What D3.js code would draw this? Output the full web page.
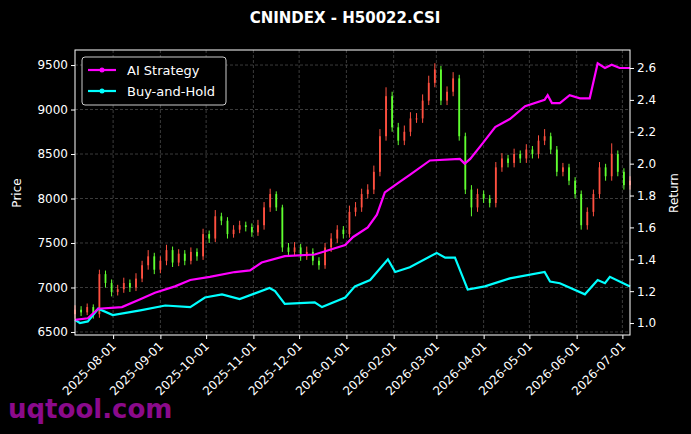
<!DOCTYPE html><html><head><meta charset="utf-8"><script src="https://cdn.jsdelivr.net/npm/d3@7"></script>
<style>body{margin:0;background:#000}svg{font-family:"DejaVu Sans",sans-serif}</style></head><body><svg width="691" height="434"></svg>
<script>
const startDate="2025-07-07", stepDays=4;
const close=[6750,6720,6780,6700,7150,7050,6950,6980,7050,7000,7100,7250,7350,7200,7300,7420,7280,7380,7300,7400,7350,7600,7550,7800,7750,7600,7650,7700,7680,7620,7700,7900,8050,7900,7450,7400,7450,7350,7400,7300,7250,7450,7550,7650,7600,7850,7900,8050,8100,8300,8700,9150,8800,8650,8750,8900,8900,9100,9300,9450,9100,9200,9350,8700,8100,7900,8050,8000,7950,8350,8450,8400,8500,8450,8550,8500,8650,8700,8550,8300,8350,8200,8050,7700,7850,8050,8350,8250,8500,8300,8150,8200];
const high=[6800,6790,6820,6810,7200,7190,7090,7030,7110,7090,7160,7300,7420,7390,7350,7480,7460,7430,7420,7450,7440,7660,7640,7870,7840,7790,7700,7750,7740,7720,7760,7960,8110,8080,7930,7500,7510,7490,7460,7440,7340,7500,7610,7700,7690,7920,7960,8110,8160,8370,8780,9250,9200,8850,8820,8970,8960,9170,9380,9520,9490,9260,9420,9390,8740,8150,8110,8090,8040,8410,8510,8490,8560,8540,8610,8590,8710,8780,8740,8590,8400,8390,8240,8090,7900,8100,8410,8390,8620,8540,8340,8250];
const low=[6650,6680,6690,6650,6660,7000,6900,6910,6940,6950,6960,7060,7200,7150,7160,7250,7230,7240,7250,7260,7300,7310,7500,7510,7700,7550,7560,7610,7630,7570,7580,7650,7850,7860,7400,7350,7360,7300,7310,7250,7200,7210,7400,7500,7550,7560,7800,7850,8000,8050,8250,8650,8750,8600,8600,8700,8850,8850,9050,9250,9050,9050,9150,8650,8050,7800,7850,7950,7900,7900,8300,8350,8350,8400,8400,8450,8450,8600,8500,8250,8250,8150,8000,7650,7650,7800,8000,8200,8200,8250,8100,8100];
const firstOpen=6700;
const aiIdx=[0,2.1,3.8,7.7,10.7,13.1,16.4,18.9,22.1,26.2,28.7,30.6,34.4,39.3,41.8,44.3,45.6,48,49.5,50.8,53,54.9,58.2,63.1,63.9,64.8,66.9,68.9,71.3,73.8,77,77.5,78.2,79.5,81.1,82.8,84.4,85.7,86.9,88,89.3,91];
const aiVal=[1.02,1.03,1.09,1.10,1.15,1.19,1.23,1.27,1.29,1.32,1.33,1.38,1.42,1.43,1.46,1.49,1.54,1.60,1.68,1.82,1.88,1.93,2.02,2.03,2.00,2.03,2.13,2.23,2.28,2.36,2.40,2.43,2.38,2.38,2.43,2.41,2.41,2.63,2.60,2.62,2.60,2.60];
const bhIdx=[0,0.8,2.1,3.8,6.2,10.7,14.8,18.9,21.3,24.1,27,31.9,32.8,34.4,39.3,40.5,44.3,45.9,48.4,51.3,52.5,54.9,59.3,60.7,62.3,64.4,67.2,71.3,77,77.9,79.5,83.6,85.7,86.9,87.7,91];
const bhVal=[1.02,1.00,1.01,1.09,1.05,1.08,1.11,1.10,1.16,1.18,1.15,1.22,1.20,1.12,1.13,1.10,1.16,1.23,1.27,1.40,1.32,1.35,1.44,1.41,1.41,1.21,1.23,1.28,1.32,1.26,1.25,1.18,1.27,1.25,1.29,1.23];
const xTicks=["2025-08-01","2025-09-01","2025-10-01","2025-11-01","2025-12-01","2026-01-01","2026-02-01","2026-03-01","2026-04-01","2026-05-01","2026-06-01","2026-07-01"];
const priceTicks=[6500,7000,7500,8000,8500,9000,9500];
const retTicks=[1.0,1.2,1.4,1.6,1.8,2.0,2.2,2.4,2.6];

const P=d3.timeParse("%Y-%m-%d"), s0=P(startDate);
const dayAt=i=>d3.timeHour.offset(s0,Math.round(i*stepDays*24));
const L=75,R=630,T=50,B=335;
const x=d3.scaleTime().domain([s0,P("2026-07-06")]).range([L,R]);
const yP=d3.scaleLinear().domain([6466,9669]).range([B,T]);
const yR=d3.scaleLinear().domain([0.925,2.713]).range([B,T]);
const svg=d3.select("svg");
svg.append("text").attr("x",345).attr("y",23).attr("text-anchor","middle").attr("fill","#fff").attr("font-weight","bold").attr("font-size",15).text("CNINDEX - H50022.CSI");
const g=svg.append("g");
g.selectAll(".gx").data(xTicks).join("line").attr("x1",d=>x(P(d))).attr("x2",d=>x(P(d))).attr("y1",T).attr("y2",B).attr("stroke","#555").attr("stroke-dasharray","3,2").attr("stroke-width",0.7);
g.selectAll(".gy").data(priceTicks).join("line").attr("x1",L).attr("x2",R).attr("y1",d=>yP(d)).attr("y2",d=>yP(d)).attr("stroke","#555").attr("stroke-dasharray","3,2").attr("stroke-width",0.7);
const candles=close.map((c,i)=>({d:dayAt(i),o:i?close[i-1]:firstOpen,c,h:high[i],l:low[i]}));
const col=d=>d.c>=d.o?"#ff5040":"#60ff30";
const cg=g.append("g");
cg.selectAll("line").data(candles).join("line").attr("x1",d=>x(d.d)).attr("x2",d=>x(d.d)).attr("y1",d=>yP(d.h)).attr("y2",d=>yP(d.l)).attr("stroke",col).attr("stroke-width",1);
cg.selectAll("rect").data(candles).join("rect").attr("x",d=>x(d.d)-0.9).attr("width",1.8).attr("y",d=>yP(Math.max(d.o,d.c))).attr("height",d=>Math.max(1,Math.abs(yP(d.o)-yP(d.c)))).attr("fill",col);
const ln=d3.line().x(d=>x(dayAt(d[0]))).y(d=>yR(d[1]));
g.append("path").attr("d",ln(bhIdx.map((v,i)=>[v,bhVal[i]]))).attr("fill","none").attr("stroke","#00ffff").attr("stroke-width",2.2);
g.append("path").attr("d",ln(aiIdx.map((v,i)=>[v,aiVal[i]]))).attr("fill","none").attr("stroke","#ff00ff").attr("stroke-width",2.2);
svg.append("rect").attr("x",L).attr("y",T).attr("width",R-L).attr("height",B-T).attr("fill","none").attr("stroke","#fff").attr("stroke-width",1);
const ax=svg.append("g").attr("transform",`translate(0,${B})`).call(d3.axisBottom(x).tickValues(xTicks.map(P)).tickFormat(d3.timeFormat("%Y-%m-%d")).tickSize(4));
ax.selectAll("text").attr("transform","rotate(-45)").attr("text-anchor","end").attr("dx","-0.5em").attr("dy","0.3em");
const ay=svg.append("g").attr("transform",`translate(${L},0)`).call(d3.axisLeft(yP).tickValues(priceTicks).tickFormat(d3.format("d")).tickSize(4));
const ar=svg.append("g").attr("transform",`translate(${R},0)`).call(d3.axisRight(yR).tickValues(retTicks).tickFormat(d3.format(".1f")).tickSize(4));
[ax,ay,ar].forEach(a=>{a.select(".domain").remove();a.selectAll("line").attr("stroke","#fff");a.selectAll("text").attr("fill","#fff").attr("font-size",12).attr("font-family","DejaVu Sans");});
svg.append("text").attr("transform","translate(21,193) rotate(-90)").attr("text-anchor","middle").attr("fill","#fff").attr("font-size",12).text("Price");
svg.append("text").attr("transform","translate(678,193) rotate(-90)").attr("text-anchor","middle").attr("fill","#fff").attr("font-size",12).text("Return");
const lg=svg.append("g");
lg.append("rect").attr("x",82).attr("y",57).attr("width",144).attr("height",48).attr("rx",3).attr("fill","#000").attr("stroke","#ccc");
[["AI Strategy","#ff00ff",70],["Buy-and-Hold","#00ffff",91]].forEach(([t,c,yy])=>{
 lg.append("line").attr("x1",88).attr("x2",116).attr("y1",yy).attr("y2",yy).attr("stroke",c).attr("stroke-width",2.2);
 lg.append("circle").attr("cx",102).attr("cy",yy).attr("r",2.5).attr("fill",c);
 lg.append("text").attr("x",127).attr("y",yy+4.5).attr("fill","#fff").attr("font-size",13).text(t);});
svg.append("text").attr("x",8).attr("y",418).attr("fill","#8b0a8b").attr("font-weight","bold").attr("font-size",26).text("uqtool.com");
</script></body></html>
